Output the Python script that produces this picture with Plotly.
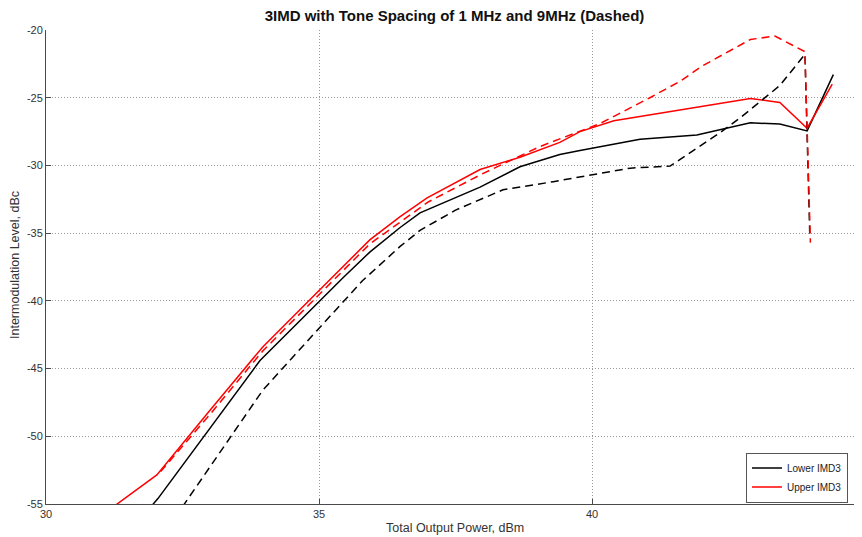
import plotly.graph_objects as go

# ---- data ----
lower_1mhz_x = [31.9, 32.05, 33.92, 34.96, 35.44, 35.93, 36.48, 36.85, 37.95, 38.68, 39.41, 39.78, 40.88, 41.92, 42.9, 43.44, 43.94, 44.42]
lower_1mhz_y = [-55.3, -54.6, -44.4, -40.2, -38.3, -36.4, -34.6, -33.5, -31.6, -30.1, -29.2, -28.9, -28.07, -27.75, -26.85, -26.95, -27.45, -23.3]

upper_1mhz_x = [31.1, 32.03, 33.0, 33.97, 34.96, 35.93, 36.48, 36.98, 37.95, 38.68, 39.41, 39.78, 40.4, 41.92, 42.9, 43.44, 43.94, 44.4]
upper_1mhz_y = [-55.6, -52.85, -48.1, -43.4, -39.4, -35.5, -33.8, -32.4, -30.3, -29.4, -28.3, -27.5, -26.7, -25.67, -25.05, -25.35, -27.25, -24.0]

lower_9mhz_x = [32.5, 33.97, 34.96, 35.8, 36.48, 36.85, 37.5, 38.37, 39.29, 40.0, 40.7, 41.43, 42.34, 42.71, 43.44, 43.9, 43.99]
lower_9mhz_y = [-55.2, -46.6, -42.2, -38.5, -36.0, -34.8, -33.3, -31.8, -31.2, -30.7, -30.2, -30.05, -27.6, -26.5, -24.1, -21.8, -35.3]

upper_9mhz_x = [32.1, 33.0, 33.97, 34.96, 35.93, 37.0, 38.0, 39.05, 40.15, 41.06, 41.61, 42.0, 42.9, 43.35, 43.9, 44.0]
upper_9mhz_y = [-52.6, -48.4, -43.7, -39.7, -35.8, -32.7, -30.6, -28.6, -26.9, -25.0, -23.8, -22.7, -20.7, -20.45, -21.6, -35.7]

x_ticks = [30, 35, 40, 45]
x_tick_labels = ["30", "35", "40", "45"]
y_ticks = [-55, -50, -45, -40, -35, -30, -25, -20]
y_tick_labels = ["-55", "-50", "-45", "-40", "-35", "-30", "-25", "-20"]

title_text = "3IMD with Tone Spacing of 1 MHz and 9MHz (Dashed)"
x_label = "Total Output Power, dBm"
y_label = "Intermodulation Level, dBc"
legend_names = ["Lower IMD3", "Upper IMD3"]

FONT = "Liberation Sans, Arial, sans-serif"
AXC = "#4a4a4a"
TXC = "#333333"

fig = go.Figure()
fig.add_trace(go.Scatter(x=lower_1mhz_x, y=lower_1mhz_y, mode="lines", name=legend_names[0],
                         line=dict(color="#000000", width=1.5)))
fig.add_trace(go.Scatter(x=upper_1mhz_x, y=upper_1mhz_y, mode="lines", name=legend_names[1],
                         line=dict(color="#ff0000", width=1.5)))
fig.add_trace(go.Scatter(x=lower_9mhz_x, y=lower_9mhz_y, mode="lines", showlegend=False,
                         line=dict(color="#000000", width=1.5, dash="8px,5px")))
fig.add_trace(go.Scatter(x=upper_9mhz_x, y=upper_9mhz_y, mode="lines", showlegend=False,
                         line=dict(color="#ff0000", width=1.5, dash="8px,5px")))

# the page body adds an 8px margin, so the figure is laid out 8px smaller / shifted
OFF = 8
W, H = 862 - OFF, 537 - OFF
L, R, T, B = 46 - OFF, 0, 30 - OFF, 33
PW, PH = W - L - R, H - T - B
PX_PER_UNIT = 54.6
x_max = 30 + PW / PX_PER_UNIT

def px_x(sx):  # screen x -> paper x
    return (sx - OFF - L) / PW

def px_y(sy):  # screen y -> paper y
    return (H - B - (sy - OFF)) / PH

fig.update_layout(
    width=W, height=H,
    margin=dict(l=L, r=R, t=T, b=B),
    paper_bgcolor="white", plot_bgcolor="white",
    font=dict(family=FONT, size=11, color=TXC),
    title=dict(text="<b>" + title_text + "</b>", x=(454.5 - OFF) / W, xanchor="center",
               y=1 - (16 - OFF) / H, yanchor="middle", yref="container",
               font=dict(family=FONT, size=15, color="#111111")),
    showlegend=True,
    legend=dict(x=px_x(848), xanchor="right", y=px_y(477.5), yanchor="middle",
                bgcolor="white", bordercolor="#555555", borderwidth=1,
                font=dict(family=FONT, size=10, color="#222222"),
                tracegroupgap=0, itemwidth=30),
)
fig.update_xaxes(range=[30, x_max], tickvals=x_ticks, ticktext=x_tick_labels,
                 showline=True, linecolor=AXC, linewidth=1, mirror=False,
                 ticks="inside", ticklen=5, tickcolor=AXC,
                 showgrid=True, gridcolor="#999999", griddash="1px,2px", gridwidth=1,
                 zeroline=False, tickfont=dict(family=FONT, size=11, color=TXC))
fig.update_yaxes(range=[-55, -20], tickvals=y_ticks, ticktext=y_tick_labels,
                 showline=True, linecolor=AXC, linewidth=1, mirror=False,
                 ticks="inside", ticklen=5, tickcolor=AXC,
                 showgrid=True, gridcolor="#999999", griddash="1px,2px", gridwidth=1,
                 zeroline=False, tickfont=dict(family=FONT, size=11, color=TXC))

# axis titles
fig.add_annotation(text=x_label, xref="paper", yref="paper", x=px_x(454.5),
                   y=px_y(528), xanchor="center", yanchor="middle",
                   showarrow=False, font=dict(family=FONT, size=12.5, color=TXC))
fig.add_annotation(text=y_label, xref="paper", yref="paper", x=px_x(15),
                   y=px_y(265), xanchor="center", yanchor="middle",
                   textangle=-90, showarrow=False, font=dict(family=FONT, size=12.5, color=TXC))
# last x tick label sits just past the right edge of the page and is cut off there
x_last_paper = (x_ticks[-1] - 30) * PX_PER_UNIT / PW
fig.add_annotation(text=x_tick_labels[-1], xref="paper", yref="paper", x=x_last_paper, y=0,
                   xanchor="center", yanchor="top", yshift=-2, showarrow=False,
                   font=dict(family=FONT, size=11, color=TXC))

fig.write_html("out.html")
